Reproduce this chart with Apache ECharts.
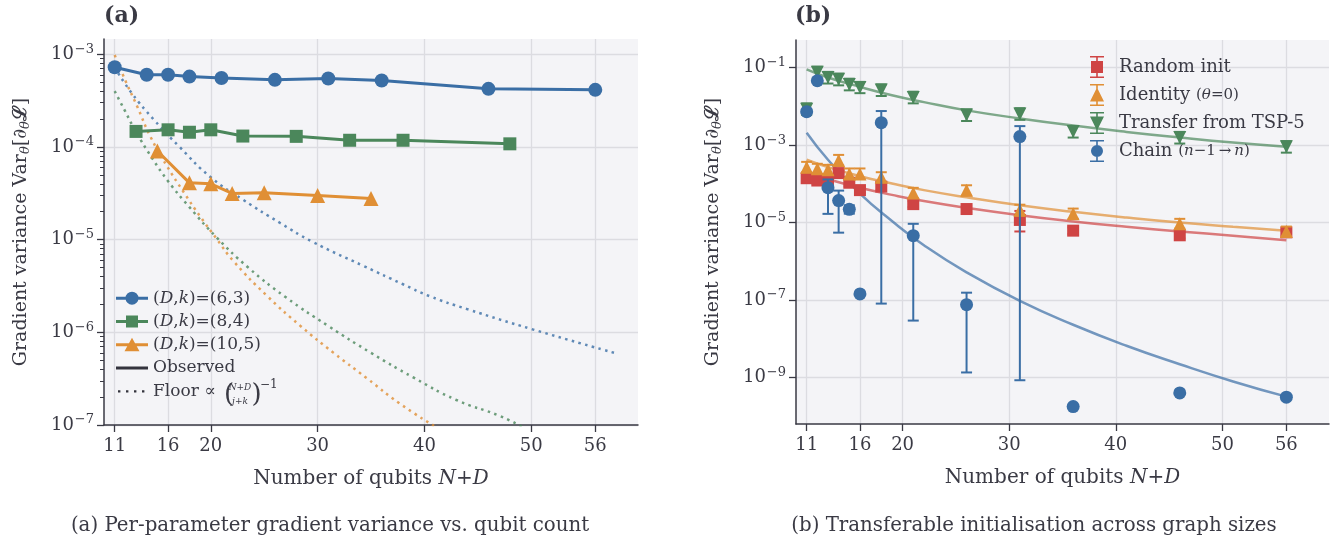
<!DOCTYPE html>
<html>
<head>
<meta charset="utf-8">
<script src="https://cdn.jsdelivr.net/npm/echarts@6/dist/echarts.min.js"></script>
<style>
  html, body { margin: 0; padding: 0; background: #fff; }
  #chart { width: 1337px; height: 543px; }
</style>
</head>
<body>
<div id="chart"></div>
<script>
// ---- panel (a): observed variance per circuit family ----
const qubitsD6 = [11, 14, 16, 18, 21, 26, 31, 36, 46, 56];
const varD6 = [7.25e-4, 6.0e-4, 6.0e-4, 5.74e-4, 5.55e-4, 5.29e-4, 5.47e-4, 5.2e-4, 4.23e-4, 4.13e-4];
const qubitsD8 = [13, 16, 18, 20, 23, 28, 33, 38, 48];
const varD8 = [1.47e-4, 1.53e-4, 1.44e-4, 1.53e-4, 1.31e-4, 1.30e-4, 1.18e-4, 1.18e-4, 1.08e-4];
const qubitsD10 = [15, 18, 20, 22, 25, 30, 35];
const varD10 = [9.05e-5, 4.1e-5, 4.0e-5, 3.15e-5, 3.2e-5, 2.99e-5, 2.78e-5];

// floor curves
const floorXD6 = [11, 12.6, 14.7, 17, 20, 23, 26.5, 29.5, 34.3, 38, 40.5, 44, 50.2, 58];
const floorD6 = [7.2e-4, 3.8e-4, 1.95e-4, 1.02e-4, 4.7e-5, 2.7e-5, 1.51e-5, 9.5e-6, 5.2e-6, 3.3e-6, 2.45e-6, 1.78e-6, 1.07e-6, 5.9e-7];
const floorXD8 = [11, 12, 13, 14.5, 16, 18, 20.5, 23.5, 27, 31, 35, 39, 43, 47, 49.2];
const floorD8 = [4.0e-4, 2.4e-4, 1.45e-4, 7.6e-5, 4.27e-5, 2.24e-5, 1.07e-5, 5.0e-6, 2.4e-6, 1.17e-6, 6.0e-7, 3.24e-7, 1.86e-7, 1.26e-7, 9.5e-8];
const floorXD10 = [11, 12, 13.1, 14.35, 15.9, 17.5, 19, 20.6, 22.1, 25.3, 28.4, 31.5, 34.6, 37.7, 40.9];
const floorD10 = [9.8e-4, 5.2e-4, 2.75e-4, 1.29e-4, 6.2e-5, 3.2e-5, 1.78e-5, 1.0e-5, 5.9e-6, 2.45e-6, 1.17e-6, 6.0e-7, 3.2e-7, 1.7e-7, 9.8e-8];

// ---- panel (b): initialisation strategies ----
const graphSizes = [11, 12, 13, 14, 15, 16, 18, 21, 26, 31, 36, 46, 56];
const randomVar = [1.40e-4, 1.22e-4, 1.12e-4, 1.9e-4, 1.07e-4, 6.9e-5, 8.5e-5, 3.0e-5, 2.24e-5, 1.17e-5, 6.2e-6, 4.7e-6, 5.6e-6];
const randomLow = [1.15e-4, 1.0e-4, 9.2e-5, 1.55e-4, 8.8e-5, 5.7e-5, 7.0e-5, 2.5e-5, 1.85e-5, 5.9e-6, 5.1e-6, 3.9e-6, 4.6e-6];
const randomHigh = [1.7e-4, 1.48e-4, 1.36e-4, 2.3e-4, 1.3e-4, 8.4e-5, 1.03e-4, 3.6e-5, 2.7e-5, 2.0e-5, 7.5e-6, 5.7e-6, 6.8e-6];
const identityVar = [2.7e-4, 2.45e-4, 2.3e-4, 4.0e-4, 1.8e-4, 1.8e-4, 1.48e-4, 5.8e-5, 6.8e-5, 2.1e-5, 1.7e-5, 9.3e-6, 5.9e-6];
const identityLow = [2.0e-4, 1.8e-4, 1.7e-4, 3.0e-4, 1.35e-4, 1.35e-4, 1.1e-4, 4.3e-5, 5.0e-5, 1.5e-5, 1.25e-5, 7.0e-6, 4.4e-6];
const identityHigh = [3.7e-4, 3.3e-4, 3.1e-4, 5.6e-4, 2.5e-4, 2.5e-4, 2.0e-4, 7.9e-5, 9.2e-5, 2.9e-5, 2.3e-5, 1.25e-5, 7.9e-6];
const transferVar = [8.5e-3, 7.6e-2, 5.6e-2, 5.0e-2, 3.7e-2, 3.1e-2, 2.66e-2, 1.7e-2, 6.0e-3, 6.4e-3, 2.24e-3, 1.58e-3, 9.1e-4];
const transferLow = [6.0e-3, 5.3e-2, 3.9e-2, 3.5e-2, 2.6e-2, 2.2e-2, 1.86e-2, 1.2e-2, 4.2e-3, 4.5e-3, 1.57e-3, 1.1e-3, 6.4e-4];
const transferHigh = [1.2e-2, 1.06e-1, 7.8e-2, 7.0e-2, 5.2e-2, 4.3e-2, 3.7e-2, 2.4e-2, 8.4e-3, 9.0e-3, 3.1e-3, 2.2e-3, 1.27e-3];
const chainVar = [7.3e-3, 4.6e-2, 8.0e-5, 3.7e-5, 2.2e-5, 1.44e-7, 3.8e-3, 4.6e-6, 7.6e-8, 1.66e-3, 1.78e-10, 4.0e-10, 3.1e-10];
const chainLow = [null, null, 1.68e-5, 5.5e-6, 1.7e-5, null, 8.1e-8, 2.95e-8, 1.35e-9, 8.5e-10, null, null, null];
const chainHigh = [null, null, 1.3e-4, 6.7e-5, 2.8e-5, null, 7.6e-3, 9.3e-6, 1.55e-7, 3.1e-3, null, null, null];

// fitted trend lines
const fitSizes = [11, 13, 16, 19, 22, 26, 31, 36, 41, 46, 51, 56];
const randomFit = [2.0e-4, 1.32e-4, 7.9e-5, 5.2e-5, 3.6e-5, 2.4e-5, 1.55e-5, 1.07e-5, 7.8e-6, 5.9e-6, 4.6e-6, 3.5e-6];
const identityFit = [4.2e-4, 2.7e-4, 1.58e-4, 1.02e-4, 6.9e-5, 4.5e-5, 2.8e-5, 1.9e-5, 1.35e-5, 1.0e-5, 7.8e-6, 6.2e-6];
const transferFit = [9.1e-2, 5.6e-2, 3.2e-2, 1.95e-2, 1.29e-2, 7.9e-3, 4.9e-3, 3.2e-3, 2.2e-3, 1.58e-3, 1.17e-3, 9.1e-4];
const chainFit = [2.1e-3, 4.2e-4, 5.6e-5, 1.1e-5, 2.6e-6, 5.2e-7, 9.5e-8, 2.3e-8, 6.6e-9, 2.2e-9, 7.9e-10, 3.2e-10];

const xTicks = [11, 16, 20, 30, 40, 50, 56];
const yTicksA = [1e-7, 1e-6, 1e-5, 1e-4, 1e-3];
const yTicksB = [1e-9, 1e-7, 1e-5, 1e-3, 1e-1];

const FONT = '"DejaVu Serif", serif';
const INK = '#3a3a44';
const BLUE = '#3a6ea5', GREEN = '#4b875b', ORANGE = '#e08f35', RED = '#cf4444';

const pairs = (xs, ys) => xs.map((x, i) => [x, ys[i]]);
const triples = (xs, lo, hi) => xs.map((x, i) => lo[i] == null ? null : [x, lo[i], hi[i]]).filter(Boolean);

// minor ticks of the left log axis
const minorA = [];
for (let e = -7; e <= -3; e++) {
  for (let m = 2; m <= 9; m++) {
    const v = m * Math.pow(10, e);
    if (v < 1.46e-3) minorA.push(v);
  }
}

function powLabel(v) {
  const e = Math.round(Math.log10(v));
  return '10{sup|' + (e < 0 ? '\u2212' + (-e) : e) + '}';
}

const tickRich = {
  sup: { fontFamily: FONT, fontSize: 13, color: INK, padding: [0, 0, 10, 1] }
};

function xAxisFor(gridIndex) {
  return {
    type: 'value', gridIndex, min: 10, max: 60,
    name: 'Number of qubits {i|N+D}', nameLocation: 'middle', nameGap: 44,
    nameTextStyle: {
      fontFamily: FONT, fontSize: 20, color: INK,
      rich: { i: { fontFamily: FONT, fontSize: 20, fontStyle: 'italic', color: INK } }
    },
    axisLine: { show: true, lineStyle: { color: INK, width: 1.5 } },
    axisTick: { show: true, length: 7, customValues: xTicks, lineStyle: { color: INK, width: 1.3 } },
    axisLabel: { customValues: xTicks, margin: 12, fontFamily: FONT, fontSize: 18, color: INK },
    splitLine: { show: true, lineStyle: { color: '#dcdce1', width: 1.3 } }
  };
}

function yAxisFor(gridIndex, min, max, ticks) {
  return {
    type: 'log', logBase: 10, gridIndex, min, max,
    name: 'Gradient variance Var{s|\u03b8}[\u2202{s|\u03b8}{L|\u2112}]',
    nameLocation: 'middle', nameGap: 72, nameRotate: 90,
    nameTextStyle: {
      fontFamily: FONT, fontSize: 19, color: INK,
      rich: {
        s: { fontFamily: FONT, fontSize: 13, color: INK, fontStyle: 'italic', padding: [9, 0, 0, 0] },
        L: { fontFamily: FONT, fontSize: 19, color: INK, fontWeight: 'bold' }
      }
    },
    axisLine: { show: true, lineStyle: { color: INK, width: 1.5 } },
    axisTick: { show: true, length: 7, customValues: ticks, lineStyle: { color: INK, width: 1.3 } },
    axisLabel: {
      customValues: ticks, formatter: powLabel, margin: 10,
      fontFamily: FONT, fontSize: 18, color: INK, rich: tickRich
    },
    splitLine: { show: true, lineStyle: { color: '#dcdce1', width: 1.3 } },
    minorTick: { show: false }
  };
}

function errRender(color) {
  return function (params, api) {
    const x = api.value(0);
    const lo = api.coord([x, api.value(1)]);
    const hi = api.coord([x, api.value(2)]);
    const w = 5.5;
    const style = { stroke: color, lineWidth: 2 };
    return {
      type: 'group',
      children: [
        { type: 'line', shape: { x1: lo[0], y1: lo[1], x2: hi[0], y2: hi[1] }, style },
        { type: 'line', shape: { x1: lo[0] - w, y1: lo[1], x2: lo[0] + w, y2: lo[1] }, style },
        { type: 'line', shape: { x1: hi[0] - w, y1: hi[1], x2: hi[0] + w, y2: hi[1] }, style }
      ]
    };
  };
}

function observed(name, xs, ys, color, symbol, size) {
  return {
    type: 'line', name, xAxisIndex: 0, yAxisIndex: 0, data: pairs(xs, ys),
    symbol, symbolSize: size, color, z: 5,
    lineStyle: { color, width: 3 }, itemStyle: { color }
  };
}

function floor(name, xs, ys, color) {
  return {
    type: 'line', name, xAxisIndex: 0, yAxisIndex: 0, data: pairs(xs, ys),
    symbol: 'none', smooth: true, z: 2, color,
    lineStyle: { color, width: 2.5, type: [2.5, 4.4], opacity: 0.8 }
  };
}

function fitLine(name, ys, color) {
  return {
    type: 'line', name, xAxisIndex: 1, yAxisIndex: 2, data: pairs(fitSizes, ys),
    symbol: 'none', smooth: true, z: 1, color,
    lineStyle: { color, width: 2.5, opacity: 0.7 }
  };
}

function markers(name, ys, color, symbol, size, z) {
  return {
    type: 'scatter', name, xAxisIndex: 1, yAxisIndex: 2, data: pairs(graphSizes, ys),
    symbol, symbolSize: size, z, color, itemStyle: { color, opacity: 1 }
  };
}

function errors(name, lo, hi, color, z) {
  return {
    type: 'custom', name, xAxisIndex: 1, yAxisIndex: 2, clip: true, z,
    encode: { x: 0, y: [1, 2] },
    data: triples(graphSizes, lo, hi), renderItem: errRender(color)
  };
}

// legend icons: tiny corner dots pin the 32x15 box so the shapes keep their size
const box = 'M0,0h0.01v0.01h-0.01Z M31.99,14.99h0.01v0.01h-0.01Z ';
const iconLineCircle = 'path://' + box + 'M0,6H32V9H0Z M9.5,7.5A6.5,6.5 0 1 1 22.5,7.5A6.5,6.5 0 1 1 9.5,7.5Z';
const iconLineSquare = 'path://' + box + 'M0,6H32V9H0Z M10,1.5H22V13.5H10Z';
const iconLineTri = 'path://' + box + 'M0,6H32V9H0Z M16,0.5L23.5,14H8.5Z';
const iconSolid = 'path://' + box + 'M0,6H32V9H0Z';
const iconDots = 'path://' + box + 'M2,6.3h2.4v2.4h-2.4Z M10,6.3h2.4v2.4h-2.4Z M18,6.3h2.4v2.4h-2.4Z M26,6.3h2.4v2.4h-2.4Z';

const iconSquare = 'path://M0,0H14V1.6H0Z M6.2,0H7.8V22H6.2Z M0,20.4H14V22H0Z M1,5H13V17H1Z';
const iconUp = 'path://M0,0H14V1.6H0Z M6.2,0H7.8V22H6.2Z M0,20.4H14V22H0Z M7,3.5L14,17.5H0Z';
const iconDown = 'path://M0,0H14V1.6H0Z M6.2,0H7.8V22H6.2Z M0,20.4H14V22H0Z M0,4.5H14L7,18.5Z';
const iconCircle = 'path://M0,0H14V1.6H0Z M6.2,0H7.8V22H6.2Z M0,20.4H14V22H0Z M1,11A6,6 0 1 1 13,11A6,6 0 1 1 1,11Z';

const legendNamesA = {
  '(D,k)=(6,3)': '({i|D},{i|k})=(6,3)',
  '(D,k)=(8,4)': '({i|D},{i|k})=(8,4)',
  '(D,k)=(10,5)': '({i|D},{i|k})=(10,5)',
  'Observed': 'Observed',
  'Floor': 'Floor \u221d'
};
const legendNamesB = {
  'Random init': 'Random init',
  'Identity (\u03b8=0)': 'Identity {m|(}{mi|\u03b8}{m|=0)}',
  'Transfer from TSP-5': 'Transfer from TSP-5',
  'Chain (n\u22121\u2192n)': 'Chain {m|(}{mi|n}{m|\u22121\u2009\u2192\u2009}{mi|n}{m|)}'
};

const chart = echarts.init(document.getElementById('chart'));

const small = (text, x, y, font, align) => ({
  type: 'text', x, y, z: 100,
  style: { text, font, fill: INK, textAlign: align || 'left', textVerticalAlign: 'middle' }
});

chart.setOption({
  animation: false,
  backgroundColor: '#ffffff',
  textStyle: { fontFamily: FONT },
  grid: [
    { left: 104, top: 39, width: 534, height: 386, show: true, backgroundColor: '#f4f4f7', borderWidth: 0, containLabel: false },
    { left: 796, top: 40, width: 533, height: 384, show: true, backgroundColor: '#f4f4f7', borderWidth: 0, containLabel: false }
  ],
  xAxis: [xAxisFor(0), xAxisFor(1)],
  yAxis: [
    yAxisFor(0, 0.9999e-7, 1.46e-3, yTicksA),
    {
      type: 'log', logBase: 10, gridIndex: 0, min: 0.9999e-7, max: 1.46e-3, position: 'left',
      axisLine: { show: false },
      axisTick: { show: true, length: 4, customValues: minorA, lineStyle: { color: INK, width: 1 } },
      axisLabel: { show: false }, splitLine: { show: false }
    },
    yAxisFor(1, 6.3e-11, 0.519, yTicksB)
  ],
  legend: [
    {
      data: [
        { name: '(D,k)=(6,3)', icon: iconLineCircle },
        { name: '(D,k)=(8,4)', icon: iconLineSquare },
        { name: '(D,k)=(10,5)', icon: iconLineTri },
        { name: 'Observed', icon: iconSolid },
        { name: 'Floor', icon: iconDots }
      ],
      orient: 'vertical', left: 116, top: 289, itemWidth: 32, itemHeight: 15, itemGap: 5,
      padding: 0, selectedMode: false,
      formatter: n => legendNamesA[n],
      textStyle: {
        fontFamily: FONT, fontSize: 17, color: INK, lineHeight: 18.3,
        rich: { i: { fontFamily: FONT, fontSize: 17, fontStyle: 'italic', color: INK } }
      }
    },
    {
      data: [
        { name: 'Random init', icon: iconSquare },
        { name: 'Identity (\u03b8=0)', icon: iconUp },
        { name: 'Transfer from TSP-5', icon: iconDown },
        { name: 'Chain (n\u22121\u2192n)', icon: iconCircle }
      ],
      orient: 'vertical', left: 1090, top: 56, itemWidth: 14, itemHeight: 22, itemGap: 6,
      padding: 0, selectedMode: false,
      formatter: n => legendNamesB[n],
      textStyle: {
        fontFamily: FONT, fontSize: 18, color: INK, padding: [0, 0, 0, 10],
        rich: {
          m: { fontFamily: FONT, fontSize: 15, color: INK },
          mi: { fontFamily: FONT, fontSize: 15, fontStyle: 'italic', color: INK }
        }
      }
    }
  ],
  graphic: [
    small('(a)', 104, 16, 'bold 22px ' + FONT),
    small('(b)', 795, 16, 'bold 22px ' + FONT),
    small('(a) Per-parameter gradient variance vs. qubit count', 330, 526, '19.8px ' + FONT, 'center'),
    small('(b) Transferable initialisation across graph sizes', 1034, 526, '19.8px ' + FONT, 'center'),
    // binomial part of the floor legend label
    small('(', 224, 395, '26px ' + FONT),
    small('N+D', 240, 388, 'italic 9px ' + FONT, 'center'),
    small('j+k', 240, 402, 'italic 9px ' + FONT, 'center'),
    small(')', 251.5, 395, '26px ' + FONT),
    small('\u22121', 260, 385, '12px ' + FONT)
  ],
  series: [
    floor('floorD6', floorXD6, floorD6, BLUE),
    floor('floorD8', floorXD8, floorD8, GREEN),
    floor('floorD10', floorXD10, floorD10, ORANGE),
    observed('(D,k)=(6,3)', qubitsD6, varD6, BLUE, 'circle', 14),
    observed('(D,k)=(8,4)', qubitsD8, varD8, GREEN, 'rect', 13),
    observed('(D,k)=(10,5)', qubitsD10, varD10, ORANGE, 'triangle', 15),
    { type: 'line', name: 'Observed', xAxisIndex: 0, yAxisIndex: 0, data: [], symbol: 'none', color: '#33333d', lineStyle: { color: '#33333d', width: 3 } },
    { type: 'line', name: 'Floor', xAxisIndex: 0, yAxisIndex: 0, data: [], symbol: 'none', color: '#33333d', lineStyle: { color: '#33333d', width: 2, type: [2, 4] } },

    fitLine('fitRandom', randomFit, RED),
    fitLine('fitIdentity', identityFit, ORANGE),
    fitLine('fitTransfer', transferFit, GREEN),
    fitLine('fitChain', chainFit, BLUE),
    errors('errRandom', randomLow, randomHigh, RED, 3),
    markers('Random init', randomVar, RED, 'rect', 12, 4),
    errors('errIdentity', identityLow, identityHigh, ORANGE, 5),
    markers('Identity (\u03b8=0)', identityVar, ORANGE, 'triangle', 13, 6),
    errors('errTransfer', transferLow, transferHigh, GREEN, 7),
    markers('Transfer from TSP-5', transferVar, GREEN, 'path://M0,0H10L5,9Z', 13, 8),
    errors('errChain', chainLow, chainHigh, BLUE, 9),
    markers('Chain (n\u22121\u2192n)', chainVar, BLUE, 'circle', 13, 10)
  ]
});
</script>
</body>
</html>
